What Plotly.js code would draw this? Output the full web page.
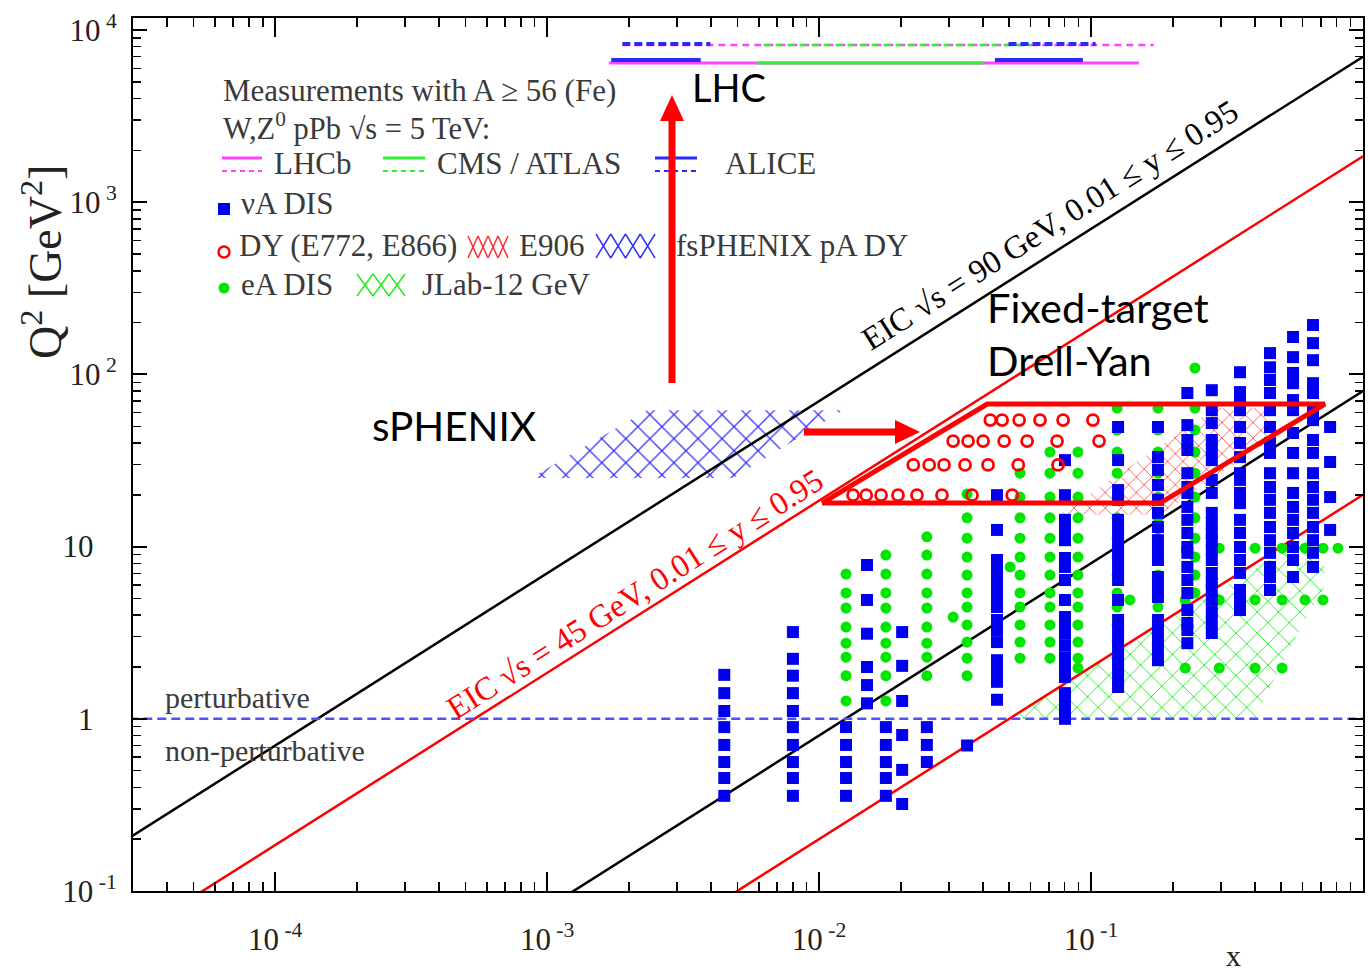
<!DOCTYPE html>
<html><head><meta charset="utf-8">
<script src="https://cdn.plot.ly/plotly-3.0.1.min.js"></script>
<style>html,body{margin:0;padding:0;background:#fff}#chart{width:1368px;height:972px}</style>
</head><body><div id="chart"></div>
<script>
// ---------------- DATA ----------------
// EIC kinematic limits: Q^2 at the two x ends
const eicXEnds = [1e-5, 1];
const eic90Upper = [0.07, 7000];
const eic90Lower = [0.0008, 80];
const eic45Upper = [0.0185, 1850];
const eic45Lower = [0.0002, 20];
const pertLineQ2 = [1, 1];
const pertLineX = [1e-5, 1];

// LHC W,Z0 pPb 5 TeV coverage
const lhcbSolidX = [1.69e-3, 0.150];     const lhcWQ2 = 6430;
const cmsSolidX = [5.9e-3, 0.0404];
const aliceSolidX1 = [1.72e-3, 3.67e-3];  const aliceSolidX2 = [0.0443, 0.0933]; const aliceWQ2 = 6700;
const lhcbDashX = [1.89e-3, 0.170];      const lhcZQ2 = 8190;
const cmsDashX = [6.25e-3, 0.0604];
const aliceDashX1 = [1.89e-3, 3.98e-3];   const aliceDashX2 = [0.0497, 0.104]; const aliceZQ2 = 8300;

// hatched regions
const fsphenixX = [8.7e-4, 2.33e-3, 1.225e-2, 4.83e-3];
const fsphenixQ2 = [25, 62, 62, 25];
const e906X = [0.0769, 0.286, 0.437, 0.455, 0.1795];
const e906Q2 = [15.3, 63.8, 63.8, 41.6, 15.3];
const jlabX = [0.05, 0.68, 0.72, 0.72, 0.54, 0.40];
const jlabQ2 = [1.0, 12.5, 12.0, 5.8, 2.6, 1.0];

// nuA DIS (blue squares): column x and Q^2 values per column
const nuA_x = [0.00448, 0.00801, 0.01256, 0.0150, 0.0176, 0.0202, 0.0249, 0.0350, 0.0451, 0.0802,
               0.1257, 0.1762, 0.226, 0.278, 0.353, 0.455, 0.553, 0.655, 0.757];
const nuA_q2 = [
  [1.80, 1.41, 1.11, 0.895, 0.705, 0.561, 0.453, 0.357],
  [3.19, 2.23, 1.78, 1.41, 1.11, 0.895, 0.705, 0.561, 0.453, 0.357],
  [0.895, 0.705, 0.561, 0.453, 0.357],
  [7.82, 4.90, 3.12, 2.0, 1.57, 1.23],
  [0.895, 0.705, 0.561, 0.453, 0.357],
  [3.19, 2.03, 1.27, 0.805, 0.505, 0.32],
  [0.895, 0.705, 0.561],
  [0.70],
  [19.9, 12.5, 8.36, 7.62, 6.66, 5.98, 5.10, 4.46, 3.75, 3.28, 2.79, 2.19, 1.92, 1.64, 1.29],
  [31.8, 19.9, 14.3, 12.5, 10.9, 8.59, 7.62, 6.40, 4.90, 3.90, 3.51, 3.15, 2.68, 2.28, 2.0, 1.75, 1.41, 1.23, 1.09, 1.0],
  [49.5, 31.8, 21.3, 18.7, 14.3, 12.5, 10.9, 9.55, 8.36, 7.31, 6.40, 4.90, 3.75, 3.28, 2.87, 2.51, 2.19, 1.92, 1.68, 1.53],
  [49.5, 33.1, 27.9, 22.8, 18.7, 15.7, 13.0, 10.9, 9.55, 8.36, 6.66, 5.83, 5.10, 3.75, 3.28, 2.87, 2.51, 2.19],
  [78, 50.8, 41.6, 36.4, 26.7, 22.2, 20.5, 17.0, 14.3, 12.0, 9.95, 9.2, 7.62, 6.40, 5.38, 4.28, 3.60, 3.28, 2.75],
  [81, 62, 52.2, 41.6, 36.4, 31.8, 24.4, 20.5, 15.7, 13.7, 12.0, 10.9, 9.55, 8.36, 7.03, 6.15, 5.60, 4.90, 4.17, 3.65, 3.15],
  [103, 79, 71, 62, 49.5, 40, 33.1, 26.7, 24.4, 20.5, 17.9, 14.3, 12.0, 9.95, 8.36, 7.03, 5.6, 4.9, 4.28],
  [133, 110, 92.8, 78, 62, 49.5, 40, 35, 26.7, 22.2, 18.7, 15.7, 13.0, 10.9, 9.2, 7.62, 6.66, 5.6],
  [165, 126, 102, 89, 71, 62, 45.7, 35, 26.7, 20.5, 17.0, 14.3, 12.0, 9.95, 8.36, 6.66],
  [193.6, 152, 121, 89, 78, 62, 54.3, 41.6, 35, 26.7, 22.2, 18.7, 15.7, 13.0, 10.9, 9.2, 7.62],
  [49.5, 31.0, 19.4, 12.5]
];

// eA DIS (green dots)
const eA_x = [0.01256, 0.0176, 0.0249, 0.0311, 0.0350, 0.0504, 0.0548, 0.0706, 0.0895, 0.1247, 0.139,
              0.1762, 0.222, 0.241, 0.296, 0.353, 0.401, 0.504, 0.612, 0.713, 0.809];
const eA_q2 = [
  [6.93, 5.38, 4.40, 3.41, 2.75, 2.28, 1.78, 1.27],
  [8.93, 6.93, 5.38, 4.40, 3.41, 2.75, 2.28, 1.78, 1.27],
  [11.4, 8.93, 6.93, 5.38, 4.40, 3.41, 2.75, 2.28, 1.78],
  [3.90],
  [20.2, 14.7, 11.2, 8.7, 6.84, 5.38, 4.46, 3.51, 2.79, 2.25, 1.78],
  [7.62],
  [26.7, 19.4, 14.7, 11.2, 8.7, 6.84, 5.38, 4.46, 3.51, 2.79, 2.25],
  [35.4, 26.7, 19.4, 14.7, 11.2, 8.7, 6.84, 5.38, 4.46, 3.51, 2.79, 2.25],
  [35.4, 26.7, 19.4, 14.7, 11.2, 8.7, 6.84, 5.38, 4.46, 3.51, 2.79, 2.25, 1.97],
  [63.8, 47.5, 35.4, 26.7, 19.4, 14.7, 11.2, 8.7, 6.84, 5.38, 4.46, 3.51, 2.79, 2.25],
  [4.90],
  [63.8, 47.5, 35.4, 26.7, 19.4, 14.7, 11.2, 8.7, 6.84, 5.38, 4.46, 3.51, 2.79, 2.25],
  [4.90, 1.97],
  [109, 63.8, 47.5, 35.4, 26.7, 19.4, 14.7, 11.2, 8.7, 6.84, 5.38],
  [9.8, 4.90, 1.97],
  [24.4, 14.3],
  [9.8, 4.90, 1.97],
  [9.8, 4.90, 1.97],
  [9.8, 4.90],
  [9.8, 4.90],
  [9.8]
];

// DY E772/E866 (red open circles): rows of Q^2 with their x values
const dy_q2 = [54.3, 41.0, 29.8, 19.9];
const dy_x = [
  [0.0426, 0.0471, 0.0544, 0.0649, 0.0789, 0.1016],
  [0.0311, 0.0353, 0.0401, 0.0479, 0.0582, 0.0750, 0.107],
  [0.0222, 0.0254, 0.0288, 0.0344, 0.0418, 0.0540, 0.0756],
  [0.01333, 0.0149, 0.0169, 0.0195, 0.0229, 0.0283, 0.0365, 0.0513]
];

// highlighted fixed-target Drell-Yan box
const ftdyX = [0.01025, 0.0415, 0.724, 0.1795, 0.01025];
const ftdyQ2 = [17.9, 67.3, 67.3, 17.9, 17.9];

// axis ticks
const xTickVals = [1e-4, 1e-3, 1e-2, 1e-1, 1];
const xTickText = ['10<sup> -4</sup>', '10<sup> -3</sup>', '10<sup> -2</sup>', '10<sup> -1</sup>', '1'];
const yTickVals = [0.1, 1, 10, 100, 1000, 10000];
const NB = '\u00a0';
const yTickText = ['10<sup> -1</sup>', '1' + NB + NB + NB, '10' + NB + NB + NB, '10<sup> 2</sup>', '10<sup> 3</sup>', '10<sup> 4</sup>'];

// ---------------- helpers ----------------
function flattenCols(xs, cols) {
  const X = [], Y = [];
  xs.forEach((x, i) => cols[i].forEach(q => { X.push(x); Y.push(q); }));
  return {X, Y};
}
function flattenRows(ys, rows) {
  const X = [], Y = [];
  ys.forEach((y, i) => rows[i].forEach(x => { X.push(x); Y.push(y); }));
  return {X, Y};
}
function minorVals(lo, hi) {
  const v = [];
  for (let e = lo; e <= hi; e++) for (let d = 2; d <= 9; d++) v.push(d * Math.pow(10, e));
  return v;
}
const SERIF = '"Liberation Serif", "Times New Roman", Times, serif';
const SANS = 'Lato, "Liberation Sans", Arial, sans-serif';
const L = 133, R = 1363, T = 18, B = 891;
const px = v => (v - L) / (R - L);
const py = v => (B - v) / (B - T);

const RED = '#ff0000', BLUE = '#0000ee', GREEN = '#00e600', MAG = '#ff44ff', LGREEN = '#33ee33', LBLUE = '#2a2aff';

// ---------------- traces ----------------
const traces = [];
function hatch(x, y, color, size, sol) {
  traces.push({x: x, y: y, type: 'scatter', mode: 'lines', fill: 'toself',
    fillcolor: 'rgba(0,0,0,0)', line: {width: 0, color: color},
    fillpattern: {shape: 'x', fgcolor: color, bgcolor: 'rgba(0,0,0,0)', fgopacity: 1, size: size, solidity: sol},
    hoverinfo: 'skip', showlegend: false});
}
hatch(fsphenixX, fsphenixQ2, '#3030ff', 17, 0.14);
hatch(e906X, e906Q2, '#ff3030', 11, 0.13);
hatch(jlabX, jlabQ2, '#22ee22', 15, 0.12);

function line(x, y, color, width, dash) {
  traces.push({x: x, y: y, type: 'scatter', mode: 'lines',
    line: {color: color, width: width, dash: dash || 'solid'}, hoverinfo: 'skip', showlegend: false});
}
line(eicXEnds, eic90Upper, '#000', 2.5);
line(eicXEnds, eic90Lower, '#000', 2.5);
line(eicXEnds, eic45Upper, RED, 2.5);
line(eicXEnds, eic45Lower, RED, 2.5);
line(pertLineX, pertLineQ2, '#5050ff', 2.5, '9px,5px');

line(lhcbSolidX, [lhcWQ2, lhcWQ2], MAG, 3);
line(cmsSolidX, [lhcWQ2, lhcWQ2], LGREEN, 3);
line(aliceSolidX1, [aliceWQ2, aliceWQ2], LBLUE, 4);
line(aliceSolidX2, [aliceWQ2, aliceWQ2], LBLUE, 4);
line(lhcbDashX, [lhcZQ2, lhcZQ2], MAG, 2.5, '7px,5px');
line(cmsDashX, [lhcZQ2, lhcZQ2], LGREEN, 2.5, '7px,5px');
line(aliceDashX1, [aliceZQ2, aliceZQ2], LBLUE, 4, '8px,4px');
line(aliceDashX2, [aliceZQ2, aliceZQ2], LBLUE, 4, '8px,4px');

const eA = flattenCols(eA_x, eA_q2);
traces.push({x: eA.X, y: eA.Y, type: 'scatter', mode: 'markers',
  marker: {symbol: 'circle', size: 11, color: GREEN, line: {width: 0}}, hoverinfo: 'skip', showlegend: false});
const nuA = flattenCols(nuA_x, nuA_q2);
traces.push({x: nuA.X, y: nuA.Y, type: 'scatter', mode: 'markers',
  marker: {symbol: 'square', size: 12, color: BLUE, line: {width: 0}}, hoverinfo: 'skip', showlegend: false});
const dy = flattenRows(dy_q2, dy_x);
traces.push({x: dy.X, y: dy.Y, type: 'scatter', mode: 'markers',
  marker: {symbol: 'circle-open', size: 11, color: RED, line: {width: 2.8, color: RED}}, hoverinfo: 'skip', showlegend: false});

traces.push({x: ftdyX, y: ftdyQ2, type: 'scatter', mode: 'lines',
  line: {color: RED, width: 5, shape: 'linear'}, hoverinfo: 'skip', showlegend: false});

// ---------------- annotations ----------------
const ann = [];
function txt(s, x, y, size, color, family, extra) {
  ann.push(Object.assign({text: s, xref: 'paper', yref: 'paper', x: px(x), y: py(y),
    xanchor: 'left', yanchor: 'middle', showarrow: false, borderpad: 0,
    font: {family: family || SERIF, size: size, color: color}}, extra || {}));
}
const LG = '#3a3a3a';
txt('Measurements with A ≥ 56 (Fe)', 222, 90, 31, LG);
txt('W,Z<sup>0</sup> pPb √s = 5 TeV:', 222, 126, 30.5, LG);
txt('LHCb', 273, 164, 31, LG);
txt('CMS / ATLAS', 436, 164, 31, LG);
txt('ALICE', 724, 164, 31, LG);
txt('νA DIS', 240, 203, 31, LG);
txt('DY (E772, E866)', 238, 246, 31, LG);
txt('E906', 518, 246, 31, LG);
txt('fsPHENIX pA DY', 675, 246, 31, LG);
txt('eA DIS', 240, 284, 31, LG);
txt('JLab-12 GeV', 421, 284, 31, LG);
txt('perturbative', 164, 697, 30, LG);
txt('non-perturbative', 164, 750, 30, LG);

txt('EIC √s = 90 GeV, 0.01 ≤ y ≤ 0.95', 1050, 225, 32.5, '#000', SERIF, {xanchor: 'center', textangle: -32.3});
txt('EIC √s = 45 GeV, 0.01 ≤ y ≤ 0.95', 635, 594, 32.5, RED, SERIF, {xanchor: 'center', textangle: -32.3});

txt('LHC', 691, 87, 38, '#000', SANS);
txt('sPHENIX', 371, 425, 40.5, '#000', SANS);
txt('Fixed-target', 986, 307, 41.5, '#000', SANS);
txt('Drell-Yan', 986, 360, 41.5, '#000', SANS);

txt('Q<sup>2</sup> [GeV<sup>2</sup>]', 42, 262, 46, '#222', SERIF, {xanchor: 'center', textangle: -90});
txt('x', 1233, 955, 30, '#222', SERIF, {xanchor: 'center'});

// ---------------- shapes (legend samples, arrows) ----------------
const shapes = [];
function seg(x0, x1, y, color, width, dash) {
  shapes.push({type: 'line', xref: 'paper', yref: 'paper', x0: px(x0), x1: px(x1), y0: py(y), y1: py(y),
    line: {color: color, width: width, dash: dash || 'solid'}});
}
seg(222, 262, 158, MAG, 3); seg(222, 262, 171, MAG, 2, '5px,4px');
seg(383, 425, 158, LGREEN, 3); seg(383, 425, 171, LGREEN, 2, '5px,4px');
seg(655, 697, 158, LBLUE, 3); seg(655, 697, 171, LBLUE, 2, '5px,4px');

shapes.push({type: 'rect', xref: 'paper', yref: 'paper', x0: px(218), x1: px(230), y0: py(215), y1: py(203),
  fillcolor: BLUE, line: {width: 0}});
shapes.push({type: 'circle', xref: 'paper', yref: 'paper', x0: px(218.5), x1: px(229.5), y0: py(257.5), y1: py(246.5),
  fillcolor: 'rgba(0,0,0,0)', line: {color: RED, width: 2.5}});
shapes.push({type: 'circle', xref: 'paper', yref: 'paper', x0: px(218.5), x1: px(229.5), y0: py(293.5), y1: py(282.5),
  fillcolor: GREEN, line: {width: 0}});

function hatchSample(x0, y0, x1, y1, n, color) {
  const w = (x1 - x0) / n;
  let p = '';
  for (let i = 0; i < n; i++) {
    const a = x0 + i * w, b = a + w;
    p += `M${px(a)},${py(y0)} L${px(b)},${py(y1)} M${px(a)},${py(y1)} L${px(b)},${py(y0)} `;
  }
  shapes.push({type: 'path', xref: 'paper', yref: 'paper', path: p, line: {color: color, width: 1.5}});
}
hatchSample(468, 236, 508, 258, 4, '#ff3030');
hatchSample(596, 234, 655, 258, 4, '#3030ff');
hatchSample(357, 274, 405, 296, 3, '#22ee22');

// red arrows
shapes.push({type: 'rect', xref: 'paper', yref: 'paper', x0: px(668.5), x1: px(675.5), y0: py(383), y1: py(118),
  fillcolor: RED, line: {width: 0}});
shapes.push({type: 'path', xref: 'paper', yref: 'paper',
  path: `M${px(660)},${py(121)} L${px(684)},${py(121)} L${px(672)},${py(95)} Z`, fillcolor: RED, line: {width: 0}});
shapes.push({type: 'rect', xref: 'paper', yref: 'paper', x0: px(804), x1: px(897), y0: py(435.5), y1: py(428.5),
  fillcolor: RED, line: {width: 0}});
shapes.push({type: 'path', xref: 'paper', yref: 'paper',
  path: `M${px(895)},${py(420)} L${px(895)},${py(444)} L${px(920)},${py(432)} Z`, fillcolor: RED, line: {width: 0}});

// ---------------- layout ----------------
const axisCommon = {
  type: 'log', showgrid: false, zeroline: false, showline: true, linecolor: '#000', linewidth: 2,
  mirror: 'allticks', ticks: 'inside', tickcolor: '#000', tickwidth: 2, tickmode: 'array',
  tickfont: {family: SERIF, size: 31, color: '#222'}
};
const layout = {
  width: 1368, height: 972,
  margin: {l: L, r: 1368 - R, t: T, b: 972 - B, pad: 0},
  paper_bgcolor: '#fff', plot_bgcolor: '#fff',
  showlegend: false,
  xaxis: Object.assign({}, axisCommon, {
    range: [-4.523, 0], tickvals: xTickVals, ticktext: xTickText, ticklen: 19,
    ticklabelstandoff: 20,
    minor: {tickmode: 'array', tickvals: minorVals(-5, -1), ticks: 'inside', ticklen: 9, tickwidth: 1.5, tickcolor: '#000', showgrid: false}
  }),
  yaxis: Object.assign({}, axisCommon, {
    range: [-1, 4.07], tickvals: yTickVals, ticktext: yTickText, ticklen: 14,
    ticklabelstandoff: 8,
    minor: {tickmode: 'array', tickvals: minorVals(-1, 4), ticks: 'inside', ticklen: 8, tickwidth: 1.5, tickcolor: '#000', showgrid: false}
  }),
  annotations: ann,
  shapes: shapes
};
Plotly.newPlot('chart', traces, layout, {staticPlot: true, displayModeBar: false});
</script>
</body></html>
